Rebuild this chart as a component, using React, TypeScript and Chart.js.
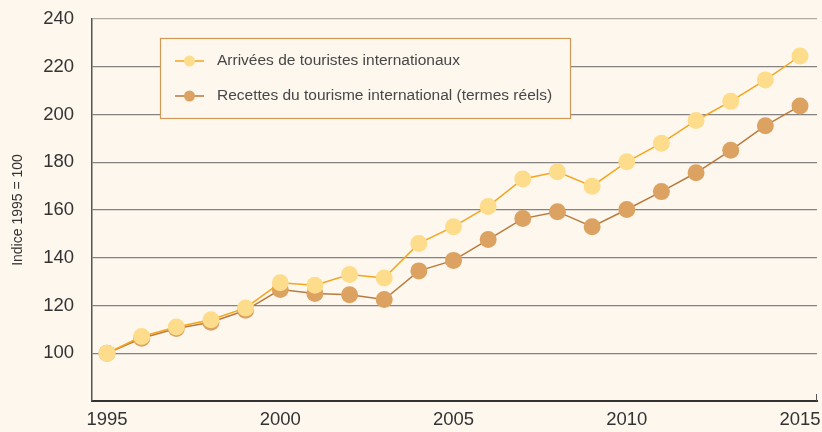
import React, { useEffect, useRef } from "react";
import { Chart, registerables } from "chart.js";

Chart.register(...registerables);

const years = [1995, 1996, 1997, 1998, 1999, 2000, 2001, 2002, 2003, 2004, 2005, 2006, 2007, 2008, 2009, 2010, 2011, 2012, 2013, 2014, 2015];
const arrivals = [100, 107, 111, 114, 119, 129.5, 128.5, 133, 131.5, 146, 153, 161.5, 173, 176, 170, 180.2, 188, 197.5, 205.5, 214.5, 224.5];
const receipts = [100, 106.3, 110.4, 113, 118, 126.7, 125, 124.5, 122.5, 134.5, 138.9, 147.6, 156.4, 159.3, 153, 160.2, 167.7, 175.6, 185, 195.3, 203.6];
const xTicks = [1995, 2000, 2005, 2010, 2015];
const seriesLabels = ["Arrivées de touristes internationaux", "Recettes du tourisme international (termes réels)"];
const yTitle = "Indice 1995 = 100";

const BG = "#fdf7ee";
const C1_POINT = "#fddd8b";
const C1_LINE = "#f5a51c";
const C2_POINT = "#dca262";
const C2_LINE = "#b97a3c";
const FONT = "'Liberation Sans', Arial, sans-serif";

const legendPlugin = {
  id: "boxLegend",
  afterDraw(chart: any) {
    const ctx = chart.ctx;
    ctx.save();
    const area = chart.chartArea;
    ctx.strokeStyle = "#555";
    ctx.lineWidth = 1;
    ctx.beginPath();
    ctx.moveTo(area.right - 0.5, area.bottom);
    ctx.lineTo(area.right - 0.5, area.bottom - 7);
    ctx.stroke();

    const bx = 160.5, by = 38.5, bw = 410, bh = 80;
    ctx.fillStyle = BG;
    ctx.fillRect(bx, by, bw, bh);
    ctx.strokeStyle = "#cf9a55";
    ctx.lineWidth = 1.2;
    ctx.strokeRect(bx, by, bw, bh);
    const items = [
      { y: 61, line: C1_LINE, point: C1_POINT, text: seriesLabels[0] },
      { y: 96, line: C2_LINE, point: C2_POINT, text: seriesLabels[1] },
    ];
    for (const it of items) {
      ctx.strokeStyle = it.line;
      ctx.lineWidth = 1.5;
      ctx.beginPath();
      ctx.moveTo(175, it.y);
      ctx.lineTo(204, it.y);
      ctx.stroke();
      ctx.fillStyle = it.point;
      ctx.beginPath();
      ctx.arc(189.5, it.y, 5.5, 0, Math.PI * 2);
      ctx.fill();
      ctx.fillStyle = "#474747";
      ctx.font = `15.5px ${FONT}`;
      ctx.textBaseline = "middle";
      ctx.textAlign = "left";
      ctx.fillText(it.text, 217, it.y);
    }
    ctx.restore();
  },
};

export default function App() {
  const ref = useRef<HTMLCanvasElement>(null);
  useEffect(() => {
    const chart = new Chart(ref.current!, {
      type: "line",
      data: {
        datasets: [
          {
            label: seriesLabels[0],
            data: years.map((x, i) => ({ x, y: arrivals[i] })),
            borderColor: C1_LINE,
            backgroundColor: C1_POINT,
            pointBackgroundColor: C1_POINT,
            pointBorderWidth: 0,
            pointRadius: 8.5,
            borderWidth: 1.5,
          },
          {
            label: seriesLabels[1],
            data: years.map((x, i) => ({ x, y: receipts[i] })),
            borderColor: C2_LINE,
            backgroundColor: C2_POINT,
            pointBackgroundColor: C2_POINT,
            pointBorderWidth: 0,
            pointRadius: 8.5,
            borderWidth: 1.5,
          },
        ],
      },
      options: {
        animation: false,
        responsive: false,
        maintainAspectRatio: false,
        layout: { autoPadding: false, padding: { left: 0, right: 5, top: 19, bottom: 0 } },
        plugins: { legend: { display: false }, tooltip: { enabled: false } },
        scales: {
          x: {
            type: "linear",
            min: 1994.567,
            max: 2015.49,
            afterBuildTicks: (s: any) => {
              s.ticks = xTicks.map((v) => ({ value: v }));
            },
            afterFit: (s: any) => {
              s.height = 31;
              s.paddingLeft = 0;
              s.paddingRight = 0;
              s.paddingTop = 0;
              s.paddingBottom = 0;
            },
            grid: { display: false, drawTicks: false },
            border: { display: true, color: "#333", width: 2 },
            ticks: {
              color: "#333",
              font: { family: FONT, size: 18.5 },
              padding: 8,
              maxRotation: 0,
              autoSkip: false,
              callback: (v: any) => String(v),
            },
          },
          y: {
            min: 80,
            max: 240,
            afterFit: (s: any) => {
              s.width = 92;
              s.paddingLeft = 0;
              s.paddingRight = 0;
              s.paddingTop = 0;
              s.paddingBottom = 0;
            },
            grid: {
              drawTicks: false,
              color: (c: any) => (c.tick && c.tick.value === 240 ? "#b3aca4" : "#858382"),
              lineWidth: 1.2,
            },
            border: { display: true, color: "#555", width: 1.5 },
            ticks: {
              stepSize: 20,
              color: "#333",
              font: { family: FONT, size: 18.5 },
              padding: 18,
              callback: (v: any) => (v === 80 ? "" : String(v)),
            },
            title: {
              display: true,
              text: yTitle,
              color: "#333",
              font: { family: FONT, size: 14 },
              padding: { top: 10, bottom: 0 },
            },
          },
        },
      },
      plugins: [legendPlugin],
    });
    return () => chart.destroy();
  }, []);
  return (
    <div style={{ position: "fixed", left: 0, top: 0, width: 822, height: 432, background: BG }}>
      <canvas ref={ref} width={822} height={432} style={{ width: 822, height: 432, display: "block" }} />
    </div>
  );
}
